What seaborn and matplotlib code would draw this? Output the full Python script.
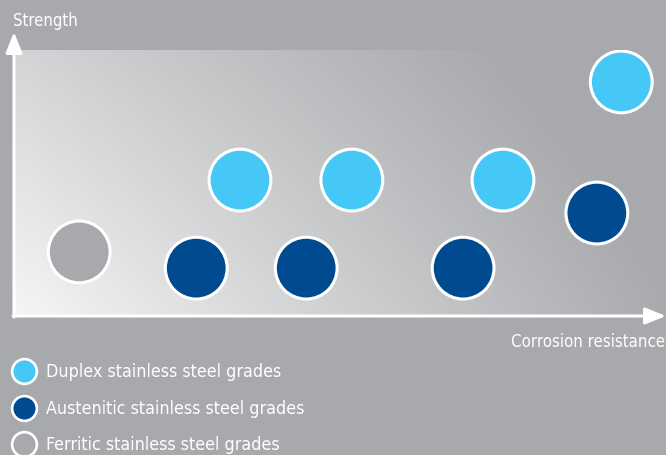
import numpy as np
import pandas as pd
import matplotlib
matplotlib.use("Agg")
import matplotlib.pyplot as plt
from matplotlib.lines import Line2D
from matplotlib.colors import to_rgb
from matplotlib import font_manager
import seaborn as sns

# ---- data (relative scale 0-10) ----
categories = ["Duplex stainless steel grades",
              "Austenitic stainless steel grades",
              "Ferritic stainless steel grades"]
duplex_corrosion = [3.53, 5.27, 7.62, 9.46]
duplex_strength = [5.11, 5.11, 5.11, 8.80]
austenitic_corrosion = [2.85, 4.56, 7.00, 9.08]
austenitic_strength = [1.80, 1.80, 1.80, 3.87]
ferritic_corrosion = [1.03]
ferritic_strength = [2.41]
x_label = "Corrosion resistance"
y_label = "Strength"

BG = "#a7a9ac"
colors = {categories[0]: "#45c8f5",
          categories[1]: "#004a8f",
          categories[2]: "#a7a9ac"}

df = pd.DataFrame({
    "corrosion": duplex_corrosion + austenitic_corrosion + ferritic_corrosion,
    "strength": duplex_strength + austenitic_strength + ferritic_strength,
    "grade": [categories[0]] * len(duplex_corrosion)
             + [categories[1]] * len(austenitic_corrosion)
             + [categories[2]] * len(ferritic_corrosion),
})

sns.set_style("white")

# pick a condensed font if one is installed
fonts = font_manager.fontManager.ttflist
names = {f.name for f in fonts}
stretch = "normal"
if "Liberation Sans Narrow" in names:
    family = ["Liberation Sans Narrow", "DejaVu Sans"]
    fs_scale = 1.0
elif any(f.name == "DejaVu Sans" and str(f.stretch) in ("condensed", "semi-condensed")
         for f in fonts):
    family = ["DejaVu Sans", "DejaVu Sans"]
    stretch = "condensed"
    fs_scale = 0.97
else:
    family = ["Roboto", "DejaVu Sans"]
    fs_scale = 1.0
plt.rcParams["font.family"] = family
plt.rcParams["font.stretch"] = stretch

W, H = 666, 455
fig = plt.figure(figsize=(W / 100, H / 100), dpi=100, facecolor=BG)
px_l, px_r, px_t, px_b = 13, 656, 50, 316
ax = fig.add_axes([px_l / W, (H - px_b) / H, (px_r - px_l) / W, (px_b - px_t) / H])
ax.set_facecolor(BG)

# gradient background (light bottom-left -> grey top-right)
nx, ny = px_r - px_l, px_b - px_t
xx, yy = np.meshgrid(np.arange(nx), np.arange(ny))
u = xx / 667.0
v = yy / 605.0
frac = np.clip(u + v - 0.5 * u * v, 0, 1)
c0 = np.array(to_rgb("#f6f6f6"))
c1 = np.array(to_rgb("#a8aaad"))
img = c0[None, None, :] * (1 - frac[..., None]) + c1[None, None, :] * frac[..., None]
ax.imshow(img, extent=[0, 10, 0, 10], origin="lower", aspect="auto", zorder=0,
          interpolation="bilinear")

sns.scatterplot(data=df, x="corrosion", y="strength", hue="grade",
                hue_order=categories, palette=colors, s=1980,
                edgecolor="white", linewidth=2.2, legend=False, ax=ax, zorder=3)

ax.set_xlim(0, 10)
ax.set_ylim(0, 10)
ax.set_xticks([])
ax.set_yticks([])
ax.set_xlabel("")
ax.set_ylabel("")
for s in ax.spines.values():
    s.set_visible(False)

def fx(p):
    return (p - px_l) / (px_r - px_l)

def fy(p):
    return (px_b - p) / (px_b - px_t)

arrow = dict(arrowstyle="-|>,head_length=1.25,head_width=0.5", color="white",
             lw=2.2, shrinkA=0, shrinkB=0, mutation_scale=10)
ax.annotate("", xy=(fx(14), fy(32)), xytext=(fx(14), fy(317)),
            xycoords="axes fraction", textcoords="axes fraction",
            arrowprops=arrow, annotation_clip=False, zorder=5)
ax.annotate("", xy=(fx(666), fy(316)), xytext=(fx(13), fy(316)),
            xycoords="axes fraction", textcoords="axes fraction",
            arrowprops=arrow, annotation_clip=False, zorder=5)

fig.text(13 / W, 1 - 21 / H, y_label, color="white", fontsize=12.3 * fs_scale,
         ha="left", va="center")
fig.text(665 / W, 1 - 342 / H, x_label, color="white", fontsize=12.4 * fs_scale,
         ha="right", va="center")

# legend
handles = [Line2D([], [], marker="o", linestyle="", markersize=17.8,
                  markerfacecolor=colors[c], markeredgecolor="white",
                  markeredgewidth=1.9) for c in categories]
leg = fig.legend(handles, categories, loc="upper left",
                 bbox_to_anchor=(3 / W, 1 - 356 / H), frameon=False,
                 fontsize=13.2 * fs_scale, labelcolor="white", handletextpad=0.45,
                 labelspacing=1.05, borderaxespad=0, handlelength=1.55)

fig.savefig("out.png", dpi=100, facecolor=BG)
